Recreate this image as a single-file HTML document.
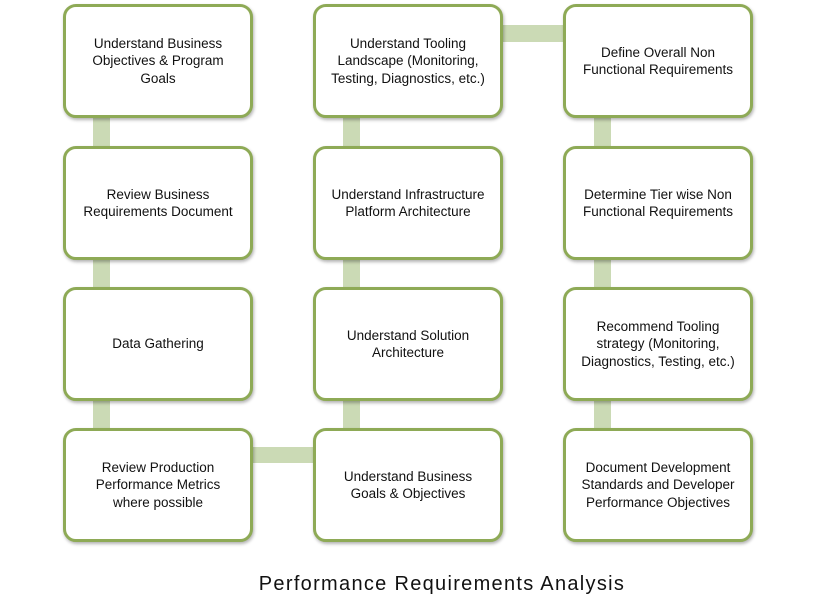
<!DOCTYPE html>
<html><head><style>
body{margin:0;width:816px;height:612px;background:#fff;position:relative;overflow:hidden;font-family:"Liberation Sans",sans-serif}
.c{position:absolute;background:#cbdab5}
.b{position:absolute;width:184px;height:108px;border:3px solid #8eaa56;border-radius:13px;background:#fff;box-shadow:1px 2px 3px rgba(0,0,0,0.3);display:flex;align-items:center;justify-content:center;text-align:center;font-size:13.5px;line-height:17.5px;color:#111}
.t{position:absolute;left:0;width:884px;top:573px;text-align:center;font-size:20px;letter-spacing:1.3px;color:#111}
</style></head><body>
<div class="c" style="left:93px;top:110px;width:17px;height:330px"></div>
<div class="c" style="left:343px;top:110px;width:17px;height:330px"></div>
<div class="c" style="left:594px;top:110px;width:17px;height:330px"></div>
<div class="c" style="left:495px;top:25px;width:80px;height:17px"></div>
<div class="c" style="left:245px;top:447px;width:80px;height:16px"></div>

<div class="b" style="left:63px;top:4px">Understand Business<br>Objectives &amp; Program<br>Goals</div>
<div class="b" style="left:63px;top:146px">Review Business<br>Requirements Document</div>
<div class="b" style="left:63px;top:287px">Data Gathering</div>
<div class="b" style="left:63px;top:428px">Review Production<br>Performance Metrics<br>where possible</div>

<div class="b" style="left:313px;top:4px">Understand Tooling<br>Landscape (Monitoring,<br>Testing, Diagnostics, etc.)</div>
<div class="b" style="left:313px;top:146px">Understand Infrastructure<br>Platform Architecture</div>
<div class="b" style="left:313px;top:287px">Understand Solution<br>Architecture</div>
<div class="b" style="left:313px;top:428px">Understand Business<br>Goals &amp; Objectives</div>

<div class="b" style="left:563px;top:4px">Define Overall Non<br>Functional Requirements</div>
<div class="b" style="left:563px;top:146px">Determine Tier wise Non<br>Functional Requirements</div>
<div class="b" style="left:563px;top:287px">Recommend Tooling<br>strategy (Monitoring,<br>Diagnostics, Testing, etc.)</div>
<div class="b" style="left:563px;top:428px">Document Development<br>Standards and Developer<br>Performance Objectives</div>

<div class="t">Performance Requirements Analysis</div>
</body></html>
